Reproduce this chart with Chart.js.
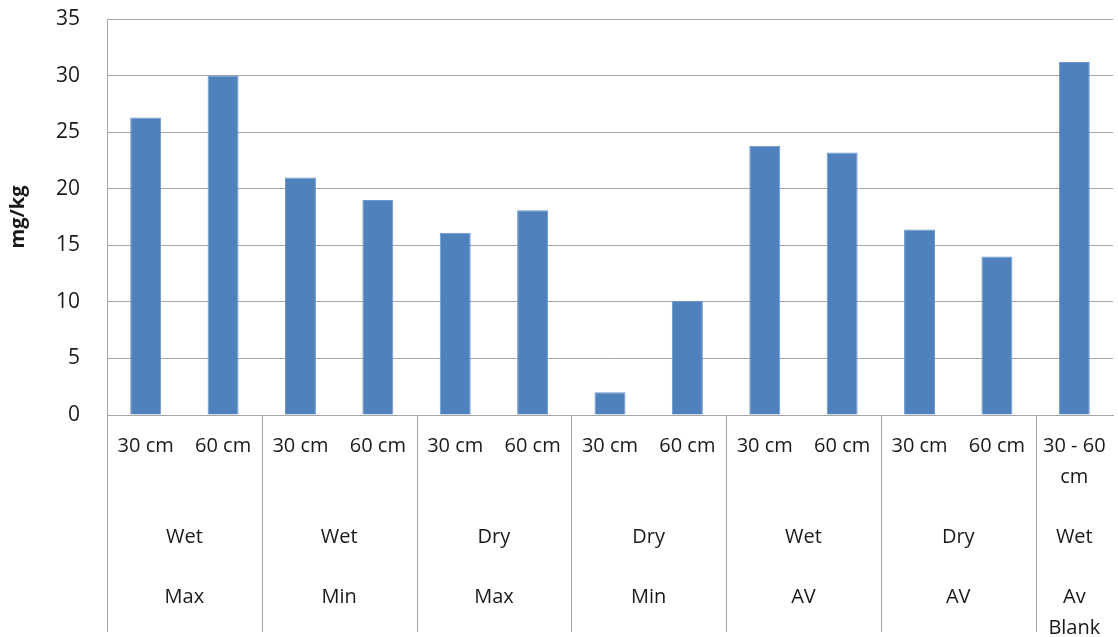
<!DOCTYPE html>
<html>
<head>
<meta charset="utf-8">
<script src="https://cdn.jsdelivr.net/npm/chart.js@4/dist/chart.umd.min.js"></script>
<style>
  html, body { margin: 0; padding: 0; background: #fff; }
  #wrap { width: 1118px; height: 637px; }
</style>
</head>
<body>
<div id="wrap"><canvas id="myChart" width="1118" height="637"></canvas></div>
<script>
const CHART = document.getElementById('myChart').getContext('2d');

const depthLabels = [
  '30 cm', '60 cm', '30 cm', '60 cm', '30 cm', '60 cm', '30 cm',
  '60 cm', '30 cm', '60 cm', '30 cm', '60 cm', ['30 - 60', 'cm'],
];
const conditionLabels = ['Wet', 'Wet', 'Dry', 'Dry', 'Wet', 'Dry', 'Wet'];
const statLabels = ['Max', 'Min', 'Max', 'Min', 'AV', 'AV', ['Av', 'Blank']];
const groupSizes = [2, 2, 2, 2, 2, 2, 1];
const concValues = [26.3, 30.0, 21.0, 19.0, 16.1, 18.1, 2.0, 10.1, 23.8, 23.2, 16.4, 14.0, 31.2];
const yTicks = [0, 5, 10, 15, 20, 25, 30, 35];

const FONT = "'Open Sans', sans-serif";
const TEXT_COLOR = '#1a1a1a';
const GRID_COLOR = '#a6a6a6';

// group labels + the vertical dividers under the axis
const groupLabelsPlugin = {
  id: 'groupLabels',
  afterDraw(chart) {
    const ctx = chart.ctx;
    const xScale = chart.scales.x;
    const area = chart.chartArea;
    const half = (xScale.getPixelForValue(1) - xScale.getPixelForValue(0)) / 2;
    const bottom = 632;

    ctx.save();
    ctx.strokeStyle = GRID_COLOR;
    ctx.lineWidth = 1;
    ctx.font = '20px ' + FONT;
    ctx.fillStyle = TEXT_COLOR;
    ctx.textAlign = 'center';
    ctx.textBaseline = 'middle';

    let start = 0;
    groupSizes.forEach((size, g) => {
      const left = Math.round(xScale.getPixelForValue(start) - half) + 0.5;
      ctx.beginPath();
      ctx.moveTo(left, area.bottom);
      ctx.lineTo(left, bottom);
      ctx.stroke();

      const center = (xScale.getPixelForValue(start) + xScale.getPixelForValue(start + size - 1)) / 2;
      ctx.fillText(conditionLabels[g], center, 537);
      const stat = [].concat(statLabels[g]);
      stat.forEach((line, i) => {
        ctx.fillText(line, center, 597 + i * 31);
      });
      start += size;
    });
    ctx.restore();
  },
};

let concChart = new Chart(CHART, {
  type: 'bar',
  data: {
    labels: depthLabels,
    datasets: [
      {
        label: 'mg/kg',
        data: concValues,
        backgroundColor: '#4f81bd',
        borderColor: '#6b96cb',
        borderWidth: 1,
        barPercentage: 0.4,
        categoryPercentage: 1,
      },
    ],
  },
  options: {
    responsive: false,
    animation: false,
    layout: { padding: { top: 19, right: 5, left: 0, bottom: 0 } },
    plugins: {
      legend: { display: false },
      tooltip: { enabled: false },
    },
    scales: {
      x: {
        grid: { display: false, drawTicks: false },
        border: { display: true, color: GRID_COLOR },
        ticks: {
          color: TEXT_COLOR,
          font: { family: FONT, size: 20, lineHeight: 1.55 },
          padding: 16,
          maxRotation: 0,
          autoSkip: false,
        },
        afterFit(scale) {
          scale.height = 222;
          scale.paddingLeft = 0;
          scale.paddingRight = 0;
        },
      },
      y: {
        min: 0,
        max: 35,
        afterBuildTicks(scale) {
          scale.ticks = yTicks.map((v) => ({ value: v }));
        },
        grid: { color: GRID_COLOR, drawTicks: false },
        border: { display: true, color: GRID_COLOR },
        ticks: {
          color: TEXT_COLOR,
          font: { family: FONT, size: 21 },
          padding: 27,
        },
        title: {
          display: true,
          text: 'mg/kg',
          color: TEXT_COLOR,
          font: { family: FONT, size: 20, weight: 'bold' },
          padding: { top: 6, bottom: 0 },
        },
        afterFit(scale) {
          scale.width = 107;
          scale.paddingTop = 0;
          scale.paddingBottom = 0;
        },
      },
    },
  },
  plugins: [groupLabelsPlugin],
});
</script>
</body>
</html>
